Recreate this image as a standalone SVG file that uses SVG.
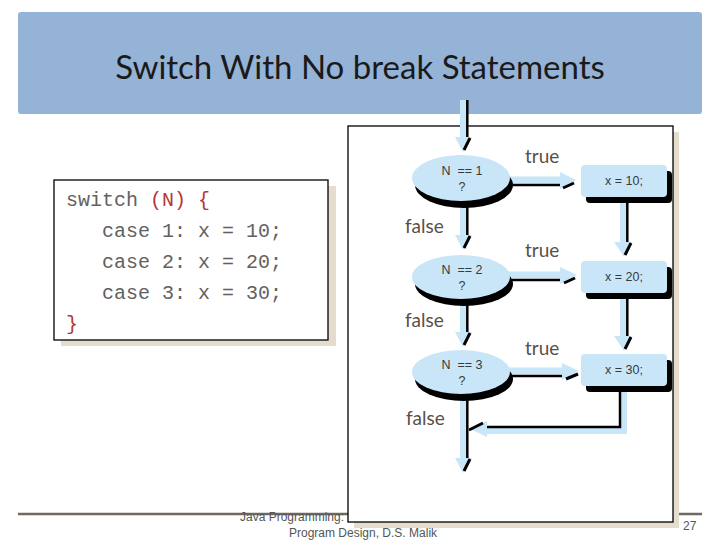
<svg xmlns="http://www.w3.org/2000/svg" width="720" height="540" viewBox="0 0 720 540">
<style>
.title{font-family:Lato,"Open Sans","Liberation Sans",sans-serif;font-size:33px;fill:#1a1a1a}
.code{font-family:"Liberation Mono","Courier New",monospace;font-size:20px;fill:#626262;white-space:pre}
.red{fill:#b53535}
.lbl{font-family:Lato,"Open Sans","Liberation Sans",sans-serif;font-size:19px;fill:#5a4f47}
.nt{font-family:"Liberation Sans",Arial,sans-serif;font-size:12.5px;fill:#3a3a3a;text-anchor:middle;white-space:pre}
.foot{font-family:"Liberation Sans",Arial,sans-serif;font-size:12px;fill:#555}
.lb{fill:#c9e6f8}
.sh{fill:#000}
.ink{stroke:#000;stroke-width:2.5;fill:none}
.slash{stroke:#000;stroke-width:3;fill:none}
.beige{fill:#e6dccd}
.frame{fill:#fff;stroke:#000;stroke-width:1.3}
</style>
<rect width="720" height="540" fill="#fff"/>
<rect x="18" y="12" width="684" height="102" rx="3" fill="#95b3d7"/>
<text class="title" x="360" y="79" text-anchor="middle">Switch With No break Statements</text>
<line x1="18" y1="514" x2="702" y2="514" stroke="#70675f" stroke-width="2.6"/>
<text class="foot" x="240" y="521">Java Programming:</text>
<text class="foot" x="289" y="537">Program Design, D.S. Malik</text>
<text class="foot" x="683" y="530" fill="#666">27</text>
<g id="code">
<rect class="beige" x="61" y="186" width="275" height="160"/>
<rect class="frame" x="54" y="180" width="274" height="160"/>
<text class="code" x="66" y="206">switch <tspan class="red">(N) {</tspan></text>
<text class="code" x="102" y="237">case 1: x = 10;</text>
<text class="code" x="102" y="268">case 2: x = 20;</text>
<text class="code" x="102" y="299">case 3: x = 30;</text>
<text class="code red" x="66" y="330">}</text>
</g>
<g id="flowbox">
<rect class="beige" x="354" y="132" width="325" height="396"/>
<rect class="frame" x="348" y="126" width="325" height="396"/>
</g>
<g id="connectors">
<rect class="lb" x="460" y="100" width="6" height="38"/>
<line class="ink" x1="467.3" y1="100" x2="467.3" y2="138"/>
<polygon class="lb" points="455,137 472,137 463,152"/>
<line class="slash" x1="464" y1="150" x2="470" y2="138"/>
<rect class="lb" x="460" y="198" width="6" height="39"/>
<line class="ink" x1="467.3" y1="200" x2="467.3" y2="237"/>
<polygon class="lb" points="455,235 472,235 463,250"/>
<line class="slash" x1="464" y1="248" x2="470" y2="236"/>
<rect class="lb" x="460" y="297" width="6" height="37"/>
<line class="ink" x1="467.3" y1="299" x2="467.3" y2="334"/>
<polygon class="lb" points="455,332 472,332 463,347"/>
<line class="slash" x1="464" y1="345" x2="470" y2="333"/>
<rect class="lb" x="460" y="391" width="6" height="69"/>
<line class="ink" x1="467.3" y1="393" x2="467.3" y2="460"/>
<polygon class="lb" points="455,458 472,458 463,473"/>
<line class="slash" x1="464" y1="471" x2="470" y2="459"/>
<rect class="lb" x="506" y="176.5" width="56" height="7"/>
<line class="ink" x1="512" y1="185" x2="561" y2="185"/>
<polygon class="lb" points="560,172 560,189 576,180"/>
<line class="slash" x1="563" y1="188" x2="574" y2="183"/>
<rect class="lb" x="506" y="271.5" width="56" height="7"/>
<line class="ink" x1="512" y1="280" x2="561" y2="280"/>
<polygon class="lb" points="560,267 560,284 577,275"/>
<line class="slash" x1="564" y1="283" x2="575" y2="278"/>
<rect class="lb" x="506" y="367.5" width="58" height="7"/>
<line class="ink" x1="512" y1="376" x2="563" y2="376"/>
<polygon class="lb" points="562,363 562,380 579,371"/>
<line class="slash" x1="566" y1="379" x2="578" y2="374"/>
<rect class="lb" x="620" y="197" width="6" height="46"/>
<line class="ink" x1="627.3" y1="197" x2="627.3" y2="243"/>
<polygon class="lb" points="614,242 632,242 624,257"/>
<line class="slash" x1="625" y1="255" x2="631" y2="243"/>
<rect class="lb" x="620" y="293" width="6" height="44"/>
<line class="ink" x1="627.3" y1="293" x2="627.3" y2="337"/>
<polygon class="lb" points="614,336 632,336 624,351"/>
<line class="slash" x1="625" y1="349" x2="631" y2="337"/>
<polygon class="lb" points="620,386 627,386 627,434 484,434 484,427 620,427"/>
<polyline class="ink" points="620,386 620,427 486,427"/>
<polygon class="lb" points="487,421 487,437 470,429"/>
<line class="slash" x1="469" y1="430" x2="483" y2="423"/>
</g>
<g id="n1">
<ellipse class="sh" cx="464" cy="185" rx="49" ry="23"/>
<ellipse class="lb" cx="461" cy="178" rx="49" ry="23"/>
<text class="nt" x="462" y="175">N  == 1</text>
<text class="nt" x="462" y="191">?</text>
</g>
<g id="n2">
<ellipse class="sh" cx="464" cy="284" rx="49" ry="22"/>
<ellipse class="lb" cx="461" cy="277" rx="49" ry="22"/>
<text class="nt" x="462" y="274">N  == 2</text>
<text class="nt" x="462" y="290">?</text>
</g>
<g id="n3">
<ellipse class="sh" cx="464" cy="379" rx="49" ry="22"/>
<ellipse class="lb" cx="461" cy="372" rx="49" ry="22"/>
<text class="nt" x="462" y="369">N  == 3</text>
<text class="nt" x="462" y="385">?</text>
</g>
<g id="r1">
<rect class="sh" x="586" y="171" width="86" height="32" rx="4"/>
<rect class="lb" x="581" y="165" width="86" height="32" rx="4"/>
<text class="nt" x="624" y="185">x = 10;</text>
</g>
<g id="r2">
<rect class="sh" x="586" y="267" width="86" height="32" rx="4"/>
<rect class="lb" x="581" y="261" width="86" height="32" rx="4"/>
<text class="nt" x="624" y="281">x = 20;</text>
</g>
<g id="r3">
<rect class="sh" x="586" y="360" width="86" height="32" rx="4"/>
<rect class="lb" x="581" y="354" width="86" height="32" rx="4"/>
<text class="nt" x="624" y="374">x = 30;</text>
</g>
<g id="labels">
<text class="lbl" x="525" y="163">true</text>
<text class="lbl" x="525" y="257">true</text>
<text class="lbl" x="525" y="355">true</text>
<text class="lbl" x="405" y="233">false</text>
<text class="lbl" x="405" y="327">false</text>
<text class="lbl" x="406" y="425">false</text>
</g>
</svg>
